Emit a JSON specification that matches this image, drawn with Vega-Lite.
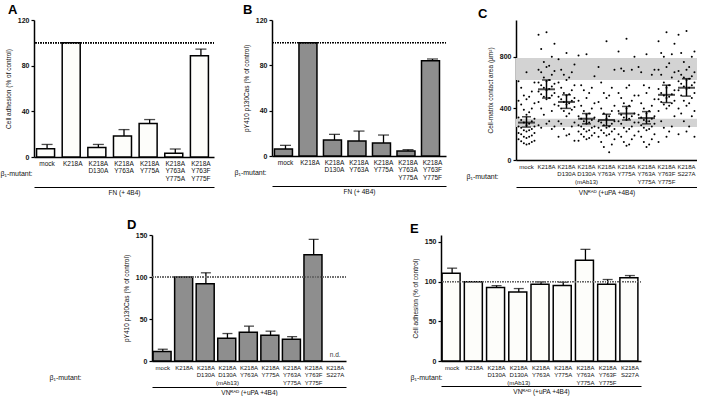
{
"$schema": "https://vega.github.io/schema/vega-lite/v6.json",
"padding": {"top": 4, "left": 0, "right": 0, "bottom": 0},
"center": false,
"align": "none",
"config": {
  "font": "Liberation Sans",
  "view": {"stroke": null},
  "axis": {"grid": false, "domainColor": "#000", "domainWidth": 1.5, "tickColor": "#000", "tickWidth": 1.2, "tickSize": 3, "titleFontWeight": "normal", "titleFontSize": 6.5, "titleColor": "#111", "labelColor": "#111"},
  "axisX": {"labelAngle": 0, "ticks": false, "labelFontSize": 6.5, "labelLineHeight": 7.5, "labelPadding": 3, "labelOverlap": false, "labelLimit": 0, "labelBaseline": "top", "labelExpr": "split(datum.label, '|')", "titleFontSize": 7, "titleColor": "#111"},
  "axisY": {"labelFontSize": 7, "labelFontWeight": "bold", "labelPadding": 2, "titlePadding": 6, "titleColor": "#111"},
  "title": {"anchor": "start", "frame": "group", "fontSize": 13, "fontWeight": "bold", "color": "#000"}
},
"datasets": {
  "A": [
    {"g": "mock", "v": 7.3, "e": 11},
    {"g": "K218A", "v": 100},
    {"g": "K218A|D130A", "v": 8.4, "e": 11},
    {"g": "K218A|Y763A", "v": 18.3, "e": 24},
    {"g": "K218A|Y775A", "v": 29.4, "e": 32.8},
    {"g": "K218A|Y763A|Y775A", "v": 3.2, "e": 7},
    {"g": "K218A|Y763F|Y775F", "v": 88.7, "e": 94.5}
  ],
  "B": [
    {"g": "mock", "v": 6.2, "e": 9.4},
    {"g": "K218A", "v": 100},
    {"g": "K218A|D130A", "v": 14.1, "e": 19.1},
    {"g": "K218A|Y763A", "v": 13.2, "e": 22},
    {"g": "K218A|Y775A", "v": 11.5, "e": 18.5},
    {"g": "K218A|Y763A|Y775A", "v": 4.4, "e": 5.6},
    {"g": "K218A|Y763F|Y775F", "v": 84.1, "e": 85.6}
  ],
  "D": [
    {"g": "mock", "v": 11.2, "e": 14},
    {"g": "K218A", "v": 100},
    {"g": "K218A|D130A", "v": 92, "e": 105},
    {"g": "K218A|D130A|(mAb13)", "v": 27, "e": 32.7},
    {"g": "K218A|Y763A", "v": 34.3, "e": 41.5},
    {"g": "K218A|Y775A", "v": 30.7, "e": 35.5},
    {"g": "K218A|Y763A|Y775A", "v": 26, "e": 29},
    {"g": "K218A|Y763F|Y775F", "v": 126.4, "e": 144.8}
  ],
  "E": [
    {"g": "mock", "v": 110.7, "e": 117},
    {"g": "K218A", "v": 100},
    {"g": "K218A|D130A", "v": 92.5, "e": 95},
    {"g": "K218A|D130A|(mAb13)", "v": 87, "e": 91.3},
    {"g": "K218A|Y763A", "v": 96.7, "e": 99.7},
    {"g": "K218A|Y775A", "v": 95, "e": 99.3},
    {"g": "K218A|Y763A|Y775A", "v": 127, "e": 140.7},
    {"g": "K218A|Y763F|Y775F", "v": 96.7, "e": 102.7},
    {"g": "K218A|S227A", "v": 104.8, "e": 107.7}
  ],
  "Cband": [{"lo": 620, "hi": 790}, {"lo": 255, "hi": 320}],
  "Csum": [
    {"g": "mock", "m": 290, "lo": 255, "hi": 335},
    {"g": "K218A", "m": 548, "lo": 480, "hi": 620},
    {"g": "K218A|D130A", "m": 450, "lo": 400, "hi": 505},
    {"g": "K218A|D130A|(mAb13)", "m": 320, "lo": 280, "hi": 360},
    {"g": "K218A|Y763A", "m": 310, "lo": 265, "hi": 355},
    {"g": "K218A|Y775A", "m": 360, "lo": 310, "hi": 415},
    {"g": "K218A|Y763A|Y775A", "m": 325, "lo": 280, "hi": 375},
    {"g": "K218A|Y763F|Y775F", "m": 505, "lo": 445, "hi": 580},
    {"g": "K218A|S227A", "m": 560, "lo": 495, "hi": 630}
  ],
  "Cpts": [
    {"g":"mock","v":680,"r":4},{"g":"mock","v":610,"r":1},{"g":"mock","v":600,"r":7},{"g":"mock","v":560,"r":2},{"g":"mock","v":530,"r":6},{"g":"mock","v":500,"r":3},{"g":"mock","v":490,"r":5},
    {"g":"mock","v":470,"r":4},{"g":"mock","v":460,"r":1},{"g":"mock","v":440,"r":7},{"g":"mock","v":430,"r":2},{"g":"mock","v":400,"r":6},{"g":"mock","v":390,"r":3},{"g":"mock","v":370,"r":5},
    {"g":"mock","v":350,"r":4},{"g":"mock","v":330,"r":1},{"g":"mock","v":320,"r":7},{"g":"mock","v":310,"r":2},{"g":"mock","v":300,"r":6},{"g":"mock","v":290,"r":3},{"g":"mock","v":280,"r":5},
    {"g":"mock","v":270,"r":4},{"g":"mock","v":260,"r":1},{"g":"mock","v":260,"r":7},{"g":"mock","v":250,"r":2},{"g":"mock","v":240,"r":6},{"g":"mock","v":230,"r":3},{"g":"mock","v":230,"r":5},
    {"g":"mock","v":220,"r":4},{"g":"mock","v":210,"r":1},{"g":"mock","v":210,"r":7},{"g":"mock","v":200,"r":2},{"g":"mock","v":190,"r":6},{"g":"mock","v":180,"r":3},{"g":"mock","v":180,"r":5},
    {"g":"mock","v":170,"r":4},{"g":"mock","v":160,"r":1},{"g":"mock","v":150,"r":7},{"g":"mock","v":145,"r":2},{"g":"mock","v":140,"r":6},{"g":"mock","v":130,"r":3},{"g":"mock","v":125,"r":5},
    {"g":"mock","v":120,"r":4},

    {"g":"K218A","v":990,"r":4},{"g":"K218A","v":970,"r":1},{"g":"K218A","v":900,"r":7},{"g":"K218A","v":860,"r":2},{"g":"K218A","v":800,"r":6},{"g":"K218A","v":760,"r":3},{"g":"K218A","v":730,"r":5},
    {"g":"K218A","v":720,"r":4},{"g":"K218A","v":700,"r":1},{"g":"K218A","v":690,"r":7},{"g":"K218A","v":680,"r":2},{"g":"K218A","v":660,"r":6},{"g":"K218A","v":640,"r":3},{"g":"K218A","v":620,"r":5},
    {"g":"K218A","v":610,"r":4},{"g":"K218A","v":600,"r":1},{"g":"K218A","v":590,"r":7},{"g":"K218A","v":580,"r":2},{"g":"K218A","v":570,"r":6},{"g":"K218A","v":560,"r":3},{"g":"K218A","v":550,"r":5},
    {"g":"K218A","v":540,"r":4},{"g":"K218A","v":530,"r":1},{"g":"K218A","v":520,"r":7},{"g":"K218A","v":510,"r":2},{"g":"K218A","v":500,"r":6},{"g":"K218A","v":490,"r":3},{"g":"K218A","v":480,"r":5},
    {"g":"K218A","v":470,"r":4},{"g":"K218A","v":450,"r":1},{"g":"K218A","v":430,"r":7},{"g":"K218A","v":400,"r":2},{"g":"K218A","v":380,"r":6},{"g":"K218A","v":350,"r":3},{"g":"K218A","v":300,"r":5},
    {"g":"K218A","v":280,"r":4},{"g":"K218A","v":270,"r":1},{"g":"K218A","v":260,"r":7},{"g":"K218A","v":250,"r":2},{"g":"K218A","v":240,"r":6},

    {"g":"K218A|D130A","v":830,"r":4},{"g":"K218A|D130A","v":780,"r":1},{"g":"K218A|D130A","v":740,"r":7},{"g":"K218A|D130A","v":700,"r":2},{"g":"K218A|D130A","v":680,"r":6},{"g":"K218A|D130A","v":660,"r":3},{"g":"K218A|D130A","v":640,"r":5},
    {"g":"K218A|D130A","v":620,"r":4},{"g":"K218A|D130A","v":600,"r":1},{"g":"K218A|D130A","v":580,"r":7},{"g":"K218A|D130A","v":560,"r":2},{"g":"K218A|D130A","v":540,"r":6},{"g":"K218A|D130A","v":520,"r":3},{"g":"K218A|D130A","v":510,"r":5},
    {"g":"K218A|D130A","v":500,"r":4},{"g":"K218A|D130A","v":490,"r":1},{"g":"K218A|D130A","v":480,"r":7},{"g":"K218A|D130A","v":470,"r":2},{"g":"K218A|D130A","v":460,"r":6},{"g":"K218A|D130A","v":450,"r":3},{"g":"K218A|D130A","v":440,"r":5},
    {"g":"K218A|D130A","v":430,"r":4},{"g":"K218A|D130A","v":420,"r":1},{"g":"K218A|D130A","v":410,"r":7},{"g":"K218A|D130A","v":400,"r":2},{"g":"K218A|D130A","v":390,"r":6},{"g":"K218A|D130A","v":380,"r":3},{"g":"K218A|D130A","v":360,"r":5},
    {"g":"K218A|D130A","v":340,"r":4},{"g":"K218A|D130A","v":300,"r":1},{"g":"K218A|D130A","v":290,"r":7},{"g":"K218A|D130A","v":280,"r":2},{"g":"K218A|D130A","v":260,"r":6},{"g":"K218A|D130A","v":240,"r":3},{"g":"K218A|D130A","v":200,"r":5},
    {"g":"K218A|D130A","v":190,"r":4},{"g":"K218A|D130A","v":180,"r":1},{"g":"K218A|D130A","v":150,"r":7},

    {"g":"K218A|D130A|(mAb13)","v":820,"r":4},{"g":"K218A|D130A|(mAb13)","v":810,"r":1},{"g":"K218A|D130A|(mAb13)","v":650,"r":7},{"g":"K218A|D130A|(mAb13)","v":580,"r":2},{"g":"K218A|D130A|(mAb13)","v":560,"r":6},{"g":"K218A|D130A|(mAb13)","v":540,"r":3},{"g":"K218A|D130A|(mAb13)","v":520,"r":5},
    {"g":"K218A|D130A|(mAb13)","v":480,"r":4},{"g":"K218A|D130A|(mAb13)","v":460,"r":1},{"g":"K218A|D130A|(mAb13)","v":440,"r":7},{"g":"K218A|D130A|(mAb13)","v":420,"r":2},{"g":"K218A|D130A|(mAb13)","v":400,"r":6},{"g":"K218A|D130A|(mAb13)","v":380,"r":3},{"g":"K218A|D130A|(mAb13)","v":360,"r":5},
    {"g":"K218A|D130A|(mAb13)","v":350,"r":4},{"g":"K218A|D130A|(mAb13)","v":340,"r":1},{"g":"K218A|D130A|(mAb13)","v":330,"r":7},{"g":"K218A|D130A|(mAb13)","v":320,"r":2},{"g":"K218A|D130A|(mAb13)","v":310,"r":6},{"g":"K218A|D130A|(mAb13)","v":300,"r":3},{"g":"K218A|D130A|(mAb13)","v":290,"r":5},
    {"g":"K218A|D130A|(mAb13)","v":280,"r":4},{"g":"K218A|D130A|(mAb13)","v":270,"r":1},{"g":"K218A|D130A|(mAb13)","v":260,"r":7},{"g":"K218A|D130A|(mAb13)","v":260,"r":2},{"g":"K218A|D130A|(mAb13)","v":250,"r":6},{"g":"K218A|D130A|(mAb13)","v":240,"r":3},{"g":"K218A|D130A|(mAb13)","v":230,"r":5},
    {"g":"K218A|D130A|(mAb13)","v":220,"r":4},{"g":"K218A|D130A|(mAb13)","v":220,"r":1},{"g":"K218A|D130A|(mAb13)","v":210,"r":7},{"g":"K218A|D130A|(mAb13)","v":200,"r":2},{"g":"K218A|D130A|(mAb13)","v":190,"r":6},{"g":"K218A|D130A|(mAb13)","v":180,"r":3},{"g":"K218A|D130A|(mAb13)","v":170,"r":5},
    {"g":"K218A|D130A|(mAb13)","v":160,"r":4},{"g":"K218A|D130A|(mAb13)","v":150,"r":1},

    {"g":"K218A|Y763A","v":920,"r":4},{"g":"K218A|Y763A","v":720,"r":1},{"g":"K218A|Y763A","v":700,"r":7},{"g":"K218A|Y763A","v":600,"r":2},{"g":"K218A|Y763A","v":560,"r":6},{"g":"K218A|Y763A","v":520,"r":3},{"g":"K218A|Y763A","v":500,"r":5},
    {"g":"K218A|Y763A","v":480,"r":4},{"g":"K218A|Y763A","v":450,"r":1},{"g":"K218A|Y763A","v":420,"r":7},{"g":"K218A|Y763A","v":400,"r":2},{"g":"K218A|Y763A","v":380,"r":6},{"g":"K218A|Y763A","v":360,"r":3},{"g":"K218A|Y763A","v":340,"r":5},
    {"g":"K218A|Y763A","v":320,"r":4},{"g":"K218A|Y763A","v":300,"r":1},{"g":"K218A|Y763A","v":300,"r":7},{"g":"K218A|Y763A","v":290,"r":2},{"g":"K218A|Y763A","v":280,"r":6},{"g":"K218A|Y763A","v":270,"r":3},{"g":"K218A|Y763A","v":260,"r":5},
    {"g":"K218A|Y763A","v":250,"r":4},{"g":"K218A|Y763A","v":250,"r":1},{"g":"K218A|Y763A","v":240,"r":7},{"g":"K218A|Y763A","v":230,"r":2},{"g":"K218A|Y763A","v":220,"r":6},{"g":"K218A|Y763A","v":210,"r":3},{"g":"K218A|Y763A","v":200,"r":5},
    {"g":"K218A|Y763A","v":190,"r":4},{"g":"K218A|Y763A","v":180,"r":1},{"g":"K218A|Y763A","v":160,"r":7},{"g":"K218A|Y763A","v":140,"r":2},{"g":"K218A|Y763A","v":120,"r":6},{"g":"K218A|Y763A","v":100,"r":3},{"g":"K218A|Y763A","v":60,"r":5},

    {"g":"K218A|Y775A","v":940,"r":4},{"g":"K218A|Y775A","v":840,"r":1},{"g":"K218A|Y775A","v":800,"r":7},{"g":"K218A|Y775A","v":710,"r":2},{"g":"K218A|Y775A","v":700,"r":6},{"g":"K218A|Y775A","v":690,"r":3},{"g":"K218A|Y775A","v":580,"r":5},
    {"g":"K218A|Y775A","v":560,"r":4},{"g":"K218A|Y775A","v":520,"r":1},{"g":"K218A|Y775A","v":500,"r":7},{"g":"K218A|Y775A","v":480,"r":2},{"g":"K218A|Y775A","v":460,"r":6},{"g":"K218A|Y775A","v":440,"r":3},{"g":"K218A|Y775A","v":420,"r":5},
    {"g":"K218A|Y775A","v":400,"r":4},{"g":"K218A|Y775A","v":380,"r":1},{"g":"K218A|Y775A","v":360,"r":7},{"g":"K218A|Y775A","v":350,"r":2},{"g":"K218A|Y775A","v":340,"r":6},{"g":"K218A|Y775A","v":330,"r":3},{"g":"K218A|Y775A","v":320,"r":5},
    {"g":"K218A|Y775A","v":310,"r":4},{"g":"K218A|Y775A","v":300,"r":1},{"g":"K218A|Y775A","v":290,"r":7},{"g":"K218A|Y775A","v":280,"r":2},{"g":"K218A|Y775A","v":260,"r":6},{"g":"K218A|Y775A","v":250,"r":3},{"g":"K218A|Y775A","v":240,"r":5},
    {"g":"K218A|Y775A","v":220,"r":4},{"g":"K218A|Y775A","v":200,"r":1},{"g":"K218A|Y775A","v":190,"r":7},{"g":"K218A|Y775A","v":180,"r":2},{"g":"K218A|Y775A","v":160,"r":6},{"g":"K218A|Y775A","v":140,"r":3},{"g":"K218A|Y775A","v":120,"r":5},
    {"g":"K218A|Y775A","v":110,"r":4},

    {"g":"K218A|Y763A|Y775A","v":820,"r":4},{"g":"K218A|Y763A|Y775A","v":720,"r":1},{"g":"K218A|Y763A|Y775A","v":700,"r":7},{"g":"K218A|Y763A|Y775A","v":680,"r":2},{"g":"K218A|Y763A|Y775A","v":660,"r":6},{"g":"K218A|Y763A|Y775A","v":580,"r":3},{"g":"K218A|Y763A|Y775A","v":560,"r":5},
    {"g":"K218A|Y763A|Y775A","v":520,"r":4},{"g":"K218A|Y763A|Y775A","v":500,"r":1},{"g":"K218A|Y763A|Y775A","v":470,"r":7},{"g":"K218A|Y763A|Y775A","v":440,"r":2},{"g":"K218A|Y763A|Y775A","v":420,"r":6},{"g":"K218A|Y763A|Y775A","v":400,"r":3},{"g":"K218A|Y763A|Y775A","v":380,"r":5},
    {"g":"K218A|Y763A|Y775A","v":360,"r":4},{"g":"K218A|Y763A|Y775A","v":350,"r":1},{"g":"K218A|Y763A|Y775A","v":340,"r":7},{"g":"K218A|Y763A|Y775A","v":330,"r":2},{"g":"K218A|Y763A|Y775A","v":320,"r":6},{"g":"K218A|Y763A|Y775A","v":310,"r":3},{"g":"K218A|Y763A|Y775A","v":300,"r":5},
    {"g":"K218A|Y763A|Y775A","v":300,"r":4},{"g":"K218A|Y763A|Y775A","v":290,"r":1},{"g":"K218A|Y763A|Y775A","v":280,"r":7},{"g":"K218A|Y763A|Y775A","v":270,"r":2},{"g":"K218A|Y763A|Y775A","v":260,"r":6},{"g":"K218A|Y763A|Y775A","v":250,"r":3},{"g":"K218A|Y763A|Y775A","v":240,"r":5},
    {"g":"K218A|Y763A|Y775A","v":230,"r":4},{"g":"K218A|Y763A|Y775A","v":220,"r":1},{"g":"K218A|Y763A|Y775A","v":200,"r":7},{"g":"K218A|Y763A|Y775A","v":180,"r":2},{"g":"K218A|Y763A|Y775A","v":160,"r":6},{"g":"K218A|Y763A|Y775A","v":140,"r":3},{"g":"K218A|Y763A|Y775A","v":120,"r":5},
    {"g":"K218A|Y763A|Y775A","v":100,"r":4},

    {"g":"K218A|Y763F|Y775F","v":990,"r":4},{"g":"K218A|Y763F|Y775F","v":920,"r":1},{"g":"K218A|Y763F|Y775F","v":900,"r":7},{"g":"K218A|Y763F|Y775F","v":830,"r":2},{"g":"K218A|Y763F|Y775F","v":820,"r":6},{"g":"K218A|Y763F|Y775F","v":800,"r":3},{"g":"K218A|Y763F|Y775F","v":750,"r":5},
    {"g":"K218A|Y763F|Y775F","v":720,"r":4},{"g":"K218A|Y763F|Y775F","v":700,"r":1},{"g":"K218A|Y763F|Y775F","v":680,"r":7},{"g":"K218A|Y763F|Y775F","v":660,"r":2},{"g":"K218A|Y763F|Y775F","v":640,"r":6},{"g":"K218A|Y763F|Y775F","v":600,"r":3},{"g":"K218A|Y763F|Y775F","v":580,"r":5},
    {"g":"K218A|Y763F|Y775F","v":560,"r":4},{"g":"K218A|Y763F|Y775F","v":550,"r":1},{"g":"K218A|Y763F|Y775F","v":540,"r":7},{"g":"K218A|Y763F|Y775F","v":520,"r":2},{"g":"K218A|Y763F|Y775F","v":510,"r":6},{"g":"K218A|Y763F|Y775F","v":500,"r":3},{"g":"K218A|Y763F|Y775F","v":490,"r":5},
    {"g":"K218A|Y763F|Y775F","v":480,"r":4},{"g":"K218A|Y763F|Y775F","v":470,"r":1},{"g":"K218A|Y763F|Y775F","v":460,"r":7},{"g":"K218A|Y763F|Y775F","v":450,"r":2},{"g":"K218A|Y763F|Y775F","v":440,"r":6},{"g":"K218A|Y763F|Y775F","v":430,"r":3},{"g":"K218A|Y763F|Y775F","v":420,"r":5},
    {"g":"K218A|Y763F|Y775F","v":400,"r":4},{"g":"K218A|Y763F|Y775F","v":380,"r":1},{"g":"K218A|Y763F|Y775F","v":340,"r":7},{"g":"K218A|Y763F|Y775F","v":300,"r":2},{"g":"K218A|Y763F|Y775F","v":260,"r":6},{"g":"K218A|Y763F|Y775F","v":250,"r":3},{"g":"K218A|Y763F|Y775F","v":220,"r":5},
    {"g":"K218A|Y763F|Y775F","v":180,"r":4},{"g":"K218A|Y763F|Y775F","v":140,"r":1},

    {"g":"K218A|S227A","v":1000,"r":4},{"g":"K218A|S227A","v":970,"r":1},{"g":"K218A|S227A","v":840,"r":7},{"g":"K218A|S227A","v":830,"r":2},{"g":"K218A|S227A","v":800,"r":6},{"g":"K218A|S227A","v":760,"r":3},{"g":"K218A|S227A","v":720,"r":5},
    {"g":"K218A|S227A","v":700,"r":4},{"g":"K218A|S227A","v":690,"r":1},{"g":"K218A|S227A","v":680,"r":7},{"g":"K218A|S227A","v":660,"r":2},{"g":"K218A|S227A","v":650,"r":6},{"g":"K218A|S227A","v":640,"r":3},{"g":"K218A|S227A","v":630,"r":5},
    {"g":"K218A|S227A","v":620,"r":4},{"g":"K218A|S227A","v":610,"r":1},{"g":"K218A|S227A","v":600,"r":7},{"g":"K218A|S227A","v":590,"r":2},{"g":"K218A|S227A","v":580,"r":6},{"g":"K218A|S227A","v":570,"r":3},{"g":"K218A|S227A","v":560,"r":5},
    {"g":"K218A|S227A","v":550,"r":4},{"g":"K218A|S227A","v":540,"r":1},{"g":"K218A|S227A","v":520,"r":7},{"g":"K218A|S227A","v":500,"r":2},{"g":"K218A|S227A","v":480,"r":6},{"g":"K218A|S227A","v":460,"r":3},{"g":"K218A|S227A","v":440,"r":5},
    {"g":"K218A|S227A","v":420,"r":4},{"g":"K218A|S227A","v":400,"r":1},{"g":"K218A|S227A","v":380,"r":7},{"g":"K218A|S227A","v":360,"r":2},{"g":"K218A|S227A","v":340,"r":6},{"g":"K218A|S227A","v":300,"r":3},{"g":"K218A|S227A","v":260,"r":5},
    {"g":"K218A|S227A","v":220,"r":4},{"g":"K218A|S227A","v":200,"r":1},{"g":"K218A|S227A","v":180,"r":7}
  ]
},
"spacing": 23,
"vconcat": [
 {"hconcat": [
  {
   "title": {"text": "A", "dx": -26, "offset": -1},
   "width": 180, "height": 137,
   "data": {"name": "A"},
   "resolve": {"axis": {"x": "independent"}},
   "layer": [
    {"mark": {"type": "bar", "fill": "#fdfdfa", "stroke": "#000", "strokeWidth": 1.5},
     "encoding": {
      "x": {"field": "g", "type": "nominal", "scale": {"domain": ["mock","K218A","K218A|D130A","K218A|Y763A","K218A|Y775A","K218A|Y763A|Y775A","K218A|Y763F|Y775F"], "paddingInner": 0.18, "paddingOuter": 0.1},
            "axis": {"title": "β₁-mutant:", "titleX": -34, "titleY": 16, "titleAlign": "left", "titleBaseline": "middle", "titleColor": "#111"}},
      "y": {"field": "v", "type": "quantitative", "title": "Cell adhesion (% of control)", "scale": {"domain": [0, 120], "nice": false}, "axis": {"values": [0,20,40,60,80,100,120]}}}},
    {"transform": [{"filter": "isValid(datum.e)"}],
     "mark": {"type": "rule", "strokeWidth": 1.3, "color": "#000"},
     "encoding": {
      "x": {"field": "g", "type": "nominal", "axis": {"orient": "bottom", "offset": 30, "labels": false, "domainWidth": 1, "title": "FN (+ 4B4)", "titleFontSize": 6.5, "titlePadding": 2, "titleColor": "#111"}},
      "y": {"field": "v", "type": "quantitative", "title": "Cell adhesion (% of control)"},
      "y2": {"field": "e"}}},
    {"transform": [{"filter": "isValid(datum.e)"}],
     "mark": {"type": "tick", "thickness": 1.3, "size": 11, "color": "#000"},
     "encoding": {
      "x": {"field": "g", "type": "nominal", "axis": null},
      "y": {"field": "e", "type": "quantitative", "title": "Cell adhesion (% of control)"}}},
    {"mark": {"type": "rule", "strokeDash": [1, 1.5], "color": "#000", "strokeWidth": 1},
     "encoding": {"y": {"datum": 100}}}
   ]
  },
  {
   "title": {"text": "B", "dx": -29, "offset": -1},
   "width": 174, "height": 136,
   "data": {"name": "B"},
   "resolve": {"axis": {"x": "independent"}},
   "layer": [
    {"mark": {"type": "bar", "fill": "#8e8e8e", "stroke": "#000", "strokeWidth": 1.5},
     "encoding": {
      "x": {"field": "g", "type": "nominal", "scale": {"domain": ["mock","K218A","K218A|D130A","K218A|Y763A","K218A|Y775A","K218A|Y763A|Y775A","K218A|Y763F|Y775F"], "paddingInner": 0.1, "paddingOuter": 0.1},
            "axis": {"title": "β₁-mutant:", "titleX": -38, "titleY": 16, "titleAlign": "left", "titleBaseline": "middle", "titleColor": "#111"}},
      "y": {"field": "v", "type": "quantitative", "title": "pY410 p130Cas (% of control)", "scale": {"domain": [0, 120], "nice": false}, "axis": {"values": [0,20,40,60,80,100,120]}}}},
    {"transform": [{"filter": "isValid(datum.e)"}],
     "mark": {"type": "rule", "strokeWidth": 1.3, "color": "#000"},
     "encoding": {
      "x": {"field": "g", "type": "nominal", "axis": {"orient": "bottom", "offset": 30, "labels": false, "domainWidth": 1, "title": "FN (+ 4B4)", "titleFontSize": 6.5, "titlePadding": 2, "titleColor": "#111"}},
      "y": {"field": "v", "type": "quantitative", "title": "pY410 p130Cas (% of control)"},
      "y2": {"field": "e"}}},
    {"transform": [{"filter": "isValid(datum.e)"}],
     "mark": {"type": "tick", "thickness": 1.3, "size": 11, "color": "#000"},
     "encoding": {
      "x": {"field": "g", "type": "nominal", "axis": null},
      "y": {"field": "e", "type": "quantitative", "title": "pY410 p130Cas (% of control)"}}},
    {"mark": {"type": "rule", "strokeDash": [1, 1.5], "color": "#000", "strokeWidth": 1},
     "encoding": {"y": {"datum": 100}}}
   ]
  },
  {
   "title": {"text": "C", "dx": -38, "offset": -1},
   "width": 181, "height": 140,
   "resolve": {"axis": {"x": "independent"}},
   "layer": [
    {"data": {"name": "Cband"},
     "mark": {"type": "rect", "color": "#d3d3d3"},
     "encoding": {
      "y": {"field": "lo", "type": "quantitative", "title": "Cell-matrix contact area (µm²)", "scale": {"domain": [0, 1085], "nice": false}, "axis": {"values": [0,200,400,600,800,1000]}},
      "y2": {"field": "hi"}}},
    {"data": {"name": "Cpts"},
     "mark": {"type": "circle", "size": 4, "color": "#000", "opacity": 1},
     "encoding": {
      "x": {"field": "g", "type": "nominal", "scale": {"domain": ["mock","K218A","K218A|D130A","K218A|D130A|(mAb13)","K218A|Y763A","K218A|Y775A","K218A|Y763A|Y775A","K218A|Y763F|Y775F","K218A|S227A"], "paddingInner": 0.15, "paddingOuter": 0.1},
            "axis": {"title": "β₁-mutant:", "titleX": -50, "titleY": 16, "titleAlign": "left", "titleBaseline": "middle", "labelFontSize": 6, "titleColor": "#111"}},
      "xOffset": {"field": "r", "type": "nominal", "scale": {"paddingOuter": 0.2}},
      "y": {"field": "v", "type": "quantitative", "title": "Cell-matrix contact area (µm²)"}}},
    {"data": {"name": "Csum"},
     "mark": {"type": "tick", "thickness": 2, "size": 17, "color": "#000"},
     "encoding": {
      "x": {"field": "g", "type": "nominal", "axis": {"orient": "bottom", "offset": 27, "labels": false, "domainWidth": 1, "title": "VNᴿᴬᴰ (+uPA +4B4)", "titleFontSize": 6.5, "titlePadding": 2, "titleColor": "#111"}},
      "y": {"field": "m", "type": "quantitative", "title": "Cell-matrix contact area (µm²)"}}},
    {"data": {"name": "Csum"},
     "mark": {"type": "rule", "strokeWidth": 1.5, "color": "#000"},
     "encoding": {
      "x": {"field": "g", "type": "nominal", "axis": null},
      "y": {"field": "lo", "type": "quantitative", "title": "Cell-matrix contact area (µm²)"},
      "y2": {"field": "hi"}}},
    {"data": {"name": "Csum"},
     "mark": {"type": "tick", "thickness": 1.5, "size": 9, "color": "#000"},
     "encoding": {
      "x": {"field": "g", "type": "nominal", "axis": null},
      "y": {"field": "lo", "type": "quantitative", "title": "Cell-matrix contact area (µm²)"}}},
    {"data": {"name": "Csum"},
     "mark": {"type": "tick", "thickness": 1.5, "size": 9, "color": "#000"},
     "encoding": {
      "x": {"field": "g", "type": "nominal", "axis": null},
      "y": {"field": "hi", "type": "quantitative", "title": "Cell-matrix contact area (µm²)"}}}
   ]
  }
 ], "spacing": 19},
 {"hconcat": [
  {"width": 14, "height": 10, "data": {"values": []}, "mark": {"type": "point", "opacity": 0}, "encoding": {}},
  {"hconcat": [
  {
   "title": {"text": "D", "dx": -25, "offset": -1},
   "width": 194, "height": 126,
   "data": {"name": "D"},
   "resolve": {"axis": {"x": "independent"}},
   "layer": [
    {"mark": {"type": "bar", "fill": "#8e8e8e", "stroke": "#000", "strokeWidth": 1.5},
     "encoding": {
      "x": {"field": "g", "type": "nominal", "scale": {"domain": ["mock","K218A","K218A|D130A","K218A|D130A|(mAb13)","K218A|Y763A","K218A|Y775A","K218A|Y763A|Y775A","K218A|Y763F|Y775F","K218A|S227A"], "paddingInner": 0.1, "paddingOuter": 0.05},
            "axis": {"title": "β₁-mutant:", "titleX": -103, "titleY": 16, "titleAlign": "left", "titleBaseline": "middle", "labelFontSize": 6, "titleColor": "#111"}},
      "y": {"field": "v", "type": "quantitative", "title": "pY410 p130Cas (% of control)", "scale": {"domain": [0, 150], "nice": false}, "axis": {"values": [0,25,50,75,100,125,150]}}}},
    {"transform": [{"filter": "isValid(datum.e)"}],
     "mark": {"type": "rule", "strokeWidth": 1.3, "color": "#000"},
     "encoding": {
      "x": {"field": "g", "type": "nominal", "axis": {"orient": "bottom", "offset": 26, "labels": false, "domainWidth": 1, "title": "VNᴿᴬᴰ (+uPA +4B4)", "titleFontSize": 6.5, "titlePadding": 2, "titleColor": "#111"}},
      "y": {"field": "v", "type": "quantitative", "title": "pY410 p130Cas (% of control)"},
      "y2": {"field": "e"}}},
    {"transform": [{"filter": "isValid(datum.e)"}],
     "mark": {"type": "tick", "thickness": 1.3, "size": 10, "color": "#000"},
     "encoding": {
      "x": {"field": "g", "type": "nominal", "axis": null},
      "y": {"field": "e", "type": "quantitative", "title": "pY410 p130Cas (% of control)"}}},
    {"mark": {"type": "rule", "strokeDash": [1, 1.5], "color": "#666", "strokeWidth": 1},
     "encoding": {"y": {"datum": 100}}},
    {"data": {"values": [{"g": "K218A|S227A", "t": "n.d."}]},
     "mark": {"type": "text", "fontSize": 6.5, "color": "#333"},
     "encoding": {
      "x": {"field": "g", "type": "nominal", "axis": null},
      "y": {"datum": 7},
      "text": {"field": "t"}}}
   ]
  },
  {
   "title": {"text": "E", "dx": -31, "offset": -1},
   "width": 200, "height": 126,
   "data": {"name": "E"},
   "resolve": {"axis": {"x": "independent"}},
   "layer": [
    {"mark": {"type": "bar", "fill": "#fdfdfa", "stroke": "#000", "strokeWidth": 1.5},
     "encoding": {
      "x": {"field": "g", "type": "nominal", "scale": {"domain": ["mock","K218A","K218A|D130A","K218A|D130A|(mAb13)","K218A|Y763A","K218A|Y775A","K218A|Y763A|Y775A","K218A|Y763F|Y775F","K218A|S227A"], "paddingInner": 0.1, "paddingOuter": 0.05},
            "axis": {"title": "β₁-mutant:", "titleX": -31, "titleY": 16, "titleAlign": "left", "titleBaseline": "middle", "labelFontSize": 6, "titleColor": "#111"}},
      "y": {"field": "v", "type": "quantitative", "title": "Cell adhesion (% of control)", "scale": {"domain": [0, 158.8], "nice": false}, "axis": {"values": [0,25,50,75,100,125,150]}}}},
    {"transform": [{"filter": "isValid(datum.e)"}],
     "mark": {"type": "rule", "strokeWidth": 1.3, "color": "#000"},
     "encoding": {
      "x": {"field": "g", "type": "nominal", "axis": {"orient": "bottom", "offset": 25, "labels": false, "domainWidth": 1, "title": "VNᴿᴬᴰ (+uPA +4B4)", "titleFontSize": 6.5, "titlePadding": 2, "titleColor": "#111"}},
      "y": {"field": "v", "type": "quantitative", "title": "Cell adhesion (% of control)"},
      "y2": {"field": "e"}}},
    {"transform": [{"filter": "isValid(datum.e)"}],
     "mark": {"type": "tick", "thickness": 1.3, "size": 10, "color": "#000"},
     "encoding": {
      "x": {"field": "g", "type": "nominal", "axis": null},
      "y": {"field": "e", "type": "quantitative", "title": "Cell adhesion (% of control)"}}},
    {"mark": {"type": "rule", "strokeDash": [1, 1.5], "color": "#666", "strokeWidth": 1},
     "encoding": {"y": {"datum": 100}}}
   ]
  }
  ], "spacing": 63}
 ], "spacing": 1}
]
}
